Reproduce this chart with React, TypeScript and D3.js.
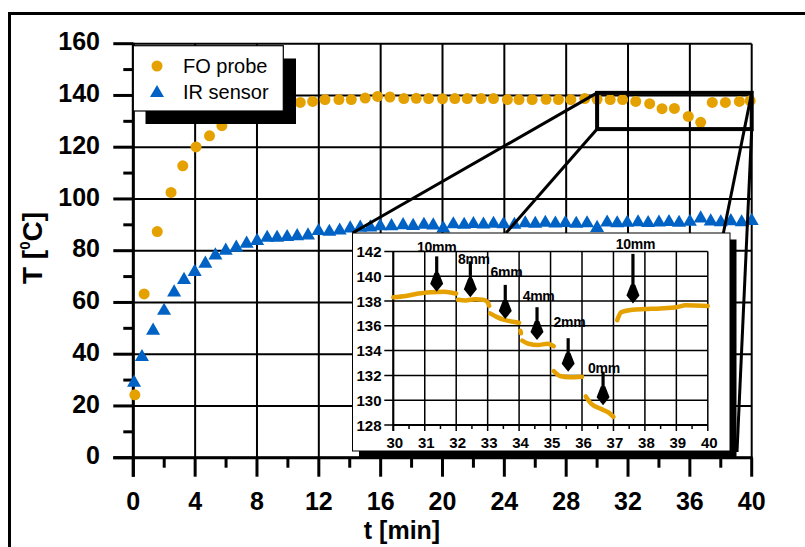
import React from 'react';
import * as d3 from 'd3';

// ---------- data ----------
const foT = [0.1, 0.7, 1.55, 2.44, 3.2, 4.06, 4.93, 5.73, 6.55, 7.4, 8.2, 9.0, 9.85, 10.8, 11.6, 12.4, 13.3, 14.1, 15.0, 15.8, 16.6, 17.5, 18.3, 19.1, 20.0, 20.8, 21.6, 22.5, 23.3, 24.2, 24.95, 25.8, 26.7, 27.5, 28.3, 29.2, 30.0, 30.85, 31.65, 32.5, 33.4, 34.2, 35.0, 35.9, 36.7, 37.45, 38.3, 39.2, 39.9];
const foV = [24.3, 63.3, 87.4, 102.5, 112.8, 120.1, 124.4, 128.3, 131.5, 133.5, 135.2, 136.5, 137.2, 137.3, 137.7, 138.4, 138.4, 138.4, 139.0, 139.6, 139.4, 138.8, 138.9, 138.8, 138.7, 138.8, 138.8, 138.8, 138.8, 138.4, 138.4, 138.4, 138.5, 138.4, 138.4, 138.8, 138.5, 138.4, 138.4, 137.7, 136.8, 134.9, 135.0, 131.9, 129.6, 137.3, 137.3, 137.7, 138.0];

const irT = [0.05, 0.56, 1.28, 1.99, 2.64, 3.28, 3.97, 4.66, 5.31, 5.98, 6.66, 7.33, 8.01, 8.66, 9.3, 9.95, 10.6, 11.3, 11.98, 12.68, 13.35, 14.03, 14.68, 15.33, 15.97, 16.7, 17.45, 18.1, 18.8, 19.4, 20.05, 20.7, 21.4, 22.0, 22.65, 23.3, 23.95, 24.65, 25.35, 26.0, 26.65, 27.3, 27.95, 28.65, 29.35, 30.0, 30.65, 31.3, 31.95, 32.65, 33.3, 34.0, 34.65, 35.3, 36.0, 36.7, 37.35, 38.0, 38.65, 39.35, 40.0];
const irV = [29.0, 38.9, 49.1, 56.8, 63.9, 68.7, 71.8, 75.0, 78.2, 80.0, 81.2, 82.7, 83.8, 85.0, 85.0, 85.3, 85.6, 85.9, 87.6, 87.3, 87.8, 88.6, 88.9, 89.0, 89.5, 89.5, 89.9, 89.6, 90.0, 89.8, 88.6, 90.2, 90.0, 90.3, 90.1, 90.4, 90.2, 90.0, 90.6, 90.4, 90.8, 90.5, 90.7, 90.4, 90.6, 88.8, 90.9, 90.6, 90.8, 91.0, 90.7, 90.9, 91.1, 90.8, 91.2, 92.5, 91.3, 91.0, 91.4, 91.0, 91.5];

const yTickVals = [0, 20, 40, 60, 80, 100, 120, 140, 160];
const yMinorVals = [10, 30, 50, 70, 90, 110, 130, 150];
const xTickVals = [0, 4, 8, 12, 16, 20, 24, 28, 32, 36, 40];
const xMinorVals = [2, 6, 10, 14, 18, 22, 26, 30, 34, 38];

const legendLabels = ['FO probe', 'IR sensor'];

// inset (zoom of 30–40 min)
const insetXTicks = [30, 31, 32, 33, 34, 35, 36, 37, 38, 39, 40];
const insetXMinor = [30.5, 31.5, 32.5, 33.5, 34.5, 35.5, 36.5, 37.5, 38.5, 39.5];
const insetYTicks = [128, 130, 132, 134, 136, 138, 140, 142];

const insetSeg1: [number, number][] = [[30.0, 138.3], [30.4, 138.4], [30.8, 138.6], [31.2, 138.7], [31.6, 138.75], [31.9, 138.65], [32.0, 138.6]];
const insetSeg2: [number, number][] = [[32.05, 138.1], [32.3, 138.05], [32.6, 138.15], [32.85, 138.1], [33.0, 137.9], [33.05, 137.6]];
const insetSeg3: [number, number][] = [[33.08, 137.0], [33.3, 136.7], [33.5, 136.5], [33.75, 136.35], [34.0, 136.25]];
const insetSeg4: [number, number][] = [[34.04, 135.6], [34.06, 135.4]];
const insetSeg5: [number, number][] = [[34.1, 134.8], [34.3, 134.55], [34.6, 134.45], [34.9, 134.55], [35.1, 134.35]];
const insetSeg6: [number, number][] = [[35.1, 132.35], [35.3, 131.95], [35.6, 131.85], [36.0, 131.9]];
const insetSeg7: [number, number][] = [[36.12, 130.3], [36.3, 129.7], [36.6, 129.3], [36.85, 129.0], [37.0, 128.65]];
const insetSeg8: [number, number][] = [[37.12, 136.45], [37.25, 137.1], [37.6, 137.3], [38.0, 137.35], [38.5, 137.4], [39.0, 137.5], [39.3, 137.65], [40.0, 137.6]];
const insetSegments = [insetSeg1, insetSeg2, insetSeg3, insetSeg4, insetSeg5, insetSeg6, insetSeg7, insetSeg8];

const arrowLabels = ['10mm', '8mm', '6mm', '4mm', '2mm', '0mm', '10mm'];
const arrowT = [31.38, 32.45, 33.56, 34.57, 35.56, 36.67, 37.62];
const arrowTop = [141.6, 141.2, 139.3, 137.5, 135.0, 132.3, 141.8];
const arrowTip = [138.75, 138.3, 136.55, 134.85, 132.3, 129.6, 137.8];
const labelT = [31.38, 32.56, 33.6, 34.62, 35.6, 36.7, 37.7];
const labelV = [142.38, 141.39, 140.36, 138.4, 136.28, 132.62, 142.57];

// zoom window in main plot
const zoomT = [30, 40];
const zoomV = [127, 141];

// ---------- style ----------
const FONT = "'Liberation Sans', Arial, Helvetica, sans-serif";
const ORANGE = '#e5a100';
const BLUE = '#0062c4';

export default function App() {
  const W = 805, H = 547;
  const x = d3.scaleLinear().domain([0, 40]).range([133.3, 751.7]);
  const y = d3.scaleLinear().domain([0, 160]).range([457.7, 43.7]);

  const inset = { left: 352.5, top: 233, width: 377.5, height: 218, shadow: 6.5 };
  const xi = d3.scaleLinear().domain([30, 40]).range([393.3, 707.8]);
  const yi = d3.scaleLinear().domain([128, 142]).range([425, 251.4]);

  const tri = d3.symbol().type(d3.symbolTriangle).size(85)() as string;
  const line = d3.line<[number, number]>().x(d => xi(d[0])).y(d => yi(d[1])).curve(d3.curveMonotoneX);

  const x0 = x(0), y0 = y(0);

  return (
    <svg width={W} height={H} style={{ position: 'absolute', left: 0, top: 0, background: '#fff' }} fontFamily={FONT}>
      <rect x={0} y={0} width={W} height={H} fill="#fff" />
      {/* outer frame */}
      <rect x={9.5} y={13.5} width={900} height={700} fill="none" stroke="#000" strokeWidth={3} />

      {/* main grid */}
      {xTickVals.map(v => (
        <line key={'gx' + v} x1={x(v)} x2={x(v)} y1={y(160)} y2={y(0)} stroke="#000" strokeWidth={2} />
      ))}
      {yTickVals.map(v => (
        <line key={'gy' + v} x1={x(0)} x2={x(40)} y1={y(v)} y2={y(v)} stroke="#000" strokeWidth={2} />
      ))}
      {/* axes */}
      <line x1={x0} x2={x0} y1={y(160) - 1} y2={y0 + 19} stroke="#000" strokeWidth={3} />
      <line x1={x0 - 20} x2={x(40) + 1} y1={y0} y2={y0} stroke="#000" strokeWidth={3} />
      {yTickVals.map(v => (
        <line key={'ty' + v} x1={x0 - 20} x2={x0} y1={y(v)} y2={y(v)} stroke="#000" strokeWidth={3} />
      ))}
      {yMinorVals.map(v => (
        <line key={'my' + v} x1={x0 - 10} x2={x0} y1={y(v)} y2={y(v)} stroke="#000" strokeWidth={3} />
      ))}
      {xTickVals.map(v => (
        <line key={'tx' + v} x1={x(v)} x2={x(v)} y1={y0} y2={y0 + 19} stroke="#000" strokeWidth={3} />
      ))}
      {xMinorVals.map(v => (
        <line key={'mx' + v} x1={x(v)} x2={x(v)} y1={y0} y2={y0 + 10} stroke="#000" strokeWidth={3} />
      ))}
      {yTickVals.map(v => (
        <text key={'ly' + v} x={100} y={y(v) + 6.7} textAnchor="end" fontSize={25} fontWeight="bold">{v}</text>
      ))}
      {xTickVals.map(v => (
        <text key={'lx' + v} x={x(v)} y={510} textAnchor="middle" fontSize={25} fontWeight="bold">{v}</text>
      ))}
      <text x={402} y={539} textAnchor="middle" fontSize={25} fontWeight="bold">t [min]</text>
      <text transform="translate(41.7,248) rotate(-90)" textAnchor="middle" fontSize={28} fontWeight="bold">
        T [<tspan fontSize={15} dy={-12}>0</tspan><tspan dy={12}>C]</tspan>
      </text>

      {/* data */}
      {irT.map((t, i) => (
        <path key={'ir' + i} d={tri} transform={`translate(${x(t)},${y(irV[i])})`} fill={BLUE} />
      ))}
      {foT.map((t, i) => (
        <circle key={'fo' + i} cx={x(t)} cy={y(foV[i])} r={5.5} fill={ORANGE} />
      ))}

      {/* legend */}
      <rect x={145.5} y={58.5} width={150.5} height={65.5} fill="#000" />
      <rect x={133.3} y={45.7} width={150} height={65.3} fill="#fff" stroke="#000" strokeWidth={1.2} />
      <circle cx={157} cy={66} r={5.5} fill={ORANGE} />
      <path d={tri} transform="translate(157,93)" fill={BLUE} />
      <text x={183} y={72.7} fontSize={20}>{legendLabels[0]}</text>
      <text x={183} y={99.3} fontSize={20}>{legendLabels[1]}</text>

      {/* zoom window */}
      <rect x={x(zoomT[0])} y={y(zoomV[1])} width={x(zoomT[1]) - x(zoomT[0])} height={y(zoomV[0]) - y(zoomV[1])} fill="none" stroke="#000" strokeWidth={4} />
      <line x1={x(zoomT[0])} y1={y(zoomV[1])} x2={inset.left} y2={inset.top} stroke="#000" strokeWidth={3} />
      <line x1={x(zoomT[0])} y1={y(zoomV[0])} x2={506} y2={inset.top} stroke="#000" strokeWidth={3} />
      <line x1={x(zoomT[1])} y1={y(zoomV[1])} x2={723} y2={inset.top + 2} stroke="#000" strokeWidth={3} />
      <line x1={x(zoomT[1])} y1={y(zoomV[0])} x2={737} y2={452} stroke="#000" strokeWidth={3} />

      {/* inset */}
      <rect x={inset.left + inset.shadow} y={inset.top + inset.shadow} width={inset.width} height={inset.height} fill="#000" />
      <rect x={inset.left} y={inset.top} width={inset.width} height={inset.height} fill="#fff" stroke="#000" strokeWidth={1} />
      {insetXTicks.map(v => (
        <line key={'igx' + v} x1={xi(v)} x2={xi(v)} y1={yi(142)} y2={yi(128) + 6} stroke="#000" strokeWidth={1.5} />
      ))}
      {insetXMinor.map(v => (
        <line key={'imx' + v} x1={xi(v)} x2={xi(v)} y1={yi(128)} y2={yi(128) + 4} stroke="#000" strokeWidth={1.5} />
      ))}
      {insetYTicks.map(v => (
        <line key={'igy' + v} x1={xi(30) - 9} x2={xi(40)} y1={yi(v)} y2={yi(v)} stroke="#000" strokeWidth={1.5} />
      ))}
      <line x1={xi(30)} x2={xi(30)} y1={yi(142)} y2={yi(128) + 6} stroke="#000" strokeWidth={2} />
      <line x1={xi(30)} x2={xi(40)} y1={yi(128)} y2={yi(128)} stroke="#000" strokeWidth={2} />
      {insetYTicks.map(v => (
        <text key={'ily' + v} x={381.5} y={yi(v) + 5.5} textAnchor="end" fontSize={15} fontWeight="bold">{v}</text>
      ))}
      {insetXTicks.map(v => (
        <text key={'ilx' + v} x={xi(v) + 1.5} y={448} textAnchor="middle" fontSize={15} fontWeight="bold">{v}</text>
      ))}
      {insetSegments.map((seg, i) => (
        <path key={'seg' + i} d={line(seg) as string} fill="none" stroke={ORANGE} strokeWidth={4.5} strokeLinecap="round" strokeLinejoin="round" />
      ))}
      {arrowT.map((t, i) => {
        const ax = xi(t);
        const top = yi(arrowTop[i]);
        const tip = yi(arrowTip[i]);
        return (
          <g key={'ar' + i}>
            <line x1={ax} x2={ax} y1={top} y2={tip - 16} stroke="#000" strokeWidth={3.2} />
            <polygon points={`${ax - 2.2},${tip - 19} ${ax - 6.5},${tip - 8} ${ax},${tip} ${ax + 6.5},${tip - 8} ${ax + 2.2},${tip - 19}`} fill="#000" />
          </g>
        );
      })}
      {arrowLabels.map((s, i) => (
        <text key={'al' + i} x={xi(labelT[i])} y={yi(labelV[i]) + 5} textAnchor="middle" fontSize={14} fontWeight="bold" letterSpacing={-0.3}>{s}</text>
      ))}
    </svg>
  );
}
